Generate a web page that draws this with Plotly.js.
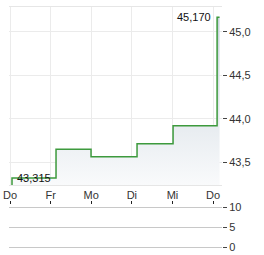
<!DOCTYPE html>
<html><head><meta charset="utf-8">
<script src="https://cdn.plot.ly/plotly-3.0.1.min.js"></script>
<style>html,body{margin:0;padding:0;background:#fff}#c{width:264px;height:255px}</style>
</head><body><div id="c"></div>
<script>
const dayPos = [0, 1, 2, 3, 4, 5];
const dayLabels = ['Do', 'Fr', 'Mo', 'Di', 'Mi', 'Do'];
const priceX = [0.049, 0.049, 1.133, 1.995, 3.128, 4.015, 5.099, 5.16];
const priceY = [43.2, 43.315, 43.646, 43.561, 43.711, 43.919, 45.17, 45.17];
const firstLabel = '43,315';
const lastLabel = '45,170';
const volTicks = [0, 5, 10];

const font = {family: 'Arial, "Liberation Sans", sans-serif', size: 11, color: '#333'};

const traces = [{
  x: priceX, y: priceY, type: 'scatter', mode: 'lines',
  line: {shape: 'hv', color: '#3d9a3d', width: 1.5},
  fill: 'tozeroy',
  fillgradient: {type: 'vertical', start: 43.2, stop: 45.2,
    colorscale: [[0, 'rgba(250,251,252,1)'], [1, 'rgba(198,209,219,1)']]},
  xaxis: 'x', yaxis: 'y', hoverinfo: 'skip'
}, {
  x: [dayPos[0], dayPos[5]], y: [0, 0], xaxis: 'x2', yaxis: 'y2', mode: 'markers',
  marker: {opacity: 0}, hoverinfo: 'skip'
}];

const layout = {
  width: 264, height: 255,
  margin: {l: 9, r: 42, t: 7, b: 6},
  paper_bgcolor: '#fff', plot_bgcolor: 'rgba(0,0,0,0)',
  separators: ',.',
  showlegend: false,
  font: font,
  xaxis: {range: [-0.025, 5.22], domain: [0, 1], anchor: 'y',
    tickvals: dayPos, ticktext: dayLabels, showgrid: true, gridcolor: '#ebebeb',
    showline: true, mirror: true, linecolor: '#e6e6e6', ticks: '', zeroline: false,
    tickfont: font, fixedrange: true},
  yaxis: {range: [43.235, 45.288], domain: [64 / 242, 1], anchor: 'x', side: 'right',
    tickvals: [43.5, 44.0, 44.5, 45.0], tickformat: '.1f', showgrid: true, gridcolor: '#ebebeb',
    ticks: 'outside', ticklen: 4, tickcolor: '#444', showline: false, zeroline: false,
    tickfont: font, fixedrange: true},
  xaxis2: {range: [-0.025, 5.22], domain: [0, 1], anchor: 'y2', side: 'top',
    tickvals: dayPos, showticklabels: false, ticks: 'outside', ticklen: 3, tickcolor: '#222', tickwidth: 1,
    showgrid: false, zeroline: false, showline: false},
  yaxis2: {range: [-0.5, 10.5], domain: [0, 44 / 242], anchor: 'x2', side: 'right',
    tickvals: volTicks, showgrid: true, gridcolor: '#c8c8c8', gridwidth: 1, zeroline: false,
    ticks: 'outside', ticklen: 4, tickcolor: '#444', tickfont: font, showline: false},
  annotations: [
    {x: priceX[6], y: priceY[6], xref: 'x', yref: 'y', text: lastLabel, showarrow: false,
     xanchor: 'right', yanchor: 'middle', xshift: -4, font: {family: font.family, size: 11, color: '#111'}},
    {x: priceX[1], y: priceY[1], xref: 'x', yref: 'y', text: firstLabel, showarrow: false,
     xanchor: 'left', yanchor: 'middle', xshift: 3, font: {family: font.family, size: 11, color: '#111'}}
  ]
};
Plotly.newPlot('c', traces, layout, {staticPlot: true, displayModeBar: false});
</script></body></html>
